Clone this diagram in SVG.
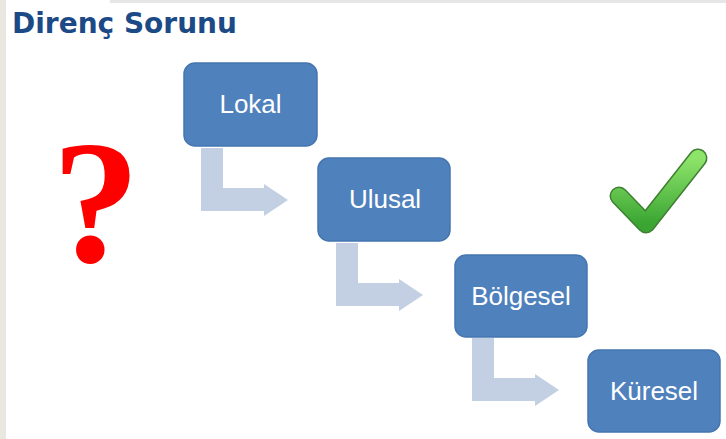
<svg xmlns="http://www.w3.org/2000/svg" width="726" height="439" viewBox="0 0 726 439">
  <defs>
    <style>
      .box { fill: #4f81bd; stroke: #4475b0; stroke-width: 1.5; }
      .lbl { fill: #ffffff; font-family: "Liberation Sans", Arial, sans-serif; font-size: 26px; text-anchor: middle; }
      .arrow { fill: #c3cfe2; }
    </style>
    <linearGradient id="chk" x1="0" y1="0" x2="0" y2="1">
      <stop offset="0" stop-color="#8ee46a"/>
      <stop offset="1" stop-color="#3aa532"/>
    </linearGradient>
    <path id="bent" d="M0,0 H22 V40 H63 V36 L87,52 L63,68 V63 H0 Z"/>
  </defs>

  <rect x="0" y="0" width="726" height="439" fill="#ffffff"/>
  <rect x="0" y="0" width="6" height="439" fill="#e8e8e0"/>
  <rect x="110" y="0" width="616" height="3" fill="#e6e6e6"/>

  <text x="12" y="33" font-family="DejaVu Sans, sans-serif" font-weight="bold" font-size="28" fill="#1b4a86">Direnç Sorunu</text>

  <text x="96" y="262" font-family="Liberation Serif, Times New Roman, serif" font-weight="bold" font-size="176" fill="#ff0000" text-anchor="middle">?</text>

  <g id="check">
    <path d="M619,196 L646,224 L698,158" fill="none" stroke="#3f7f32" stroke-width="19" stroke-linecap="round" stroke-linejoin="round"/>
    <path d="M619,196 L646,224 L698,158" fill="none" stroke="url(#chk)" stroke-width="16" stroke-linecap="round" stroke-linejoin="round"/>
  </g>

  <g id="connectors">
    <use href="#bent" class="arrow" x="201" y="148"/>
    <use href="#bent" class="arrow" x="336" y="243"/>
    <use href="#bent" class="arrow" x="472" y="338"/>
  </g>

  <g id="lokal">
    <rect class="box" x="184" y="63" width="133" height="83" rx="11"/>
    <text class="lbl" x="250.5" y="113">Lokal</text>
  </g>
  <g id="ulusal">
    <rect class="box" x="318" y="158" width="132" height="83" rx="11"/>
    <text class="lbl" x="385" y="208">Ulusal</text>
  </g>
  <g id="bolgesel">
    <rect class="box" x="455" y="255" width="132" height="82" rx="11"/>
    <text class="lbl" x="521" y="305">Bölgesel</text>
  </g>
  <g id="kuresel">
    <rect class="box" x="588" y="350" width="132" height="82" rx="11"/>
    <text class="lbl" x="654" y="400">Küresel</text>
  </g>
</svg>
